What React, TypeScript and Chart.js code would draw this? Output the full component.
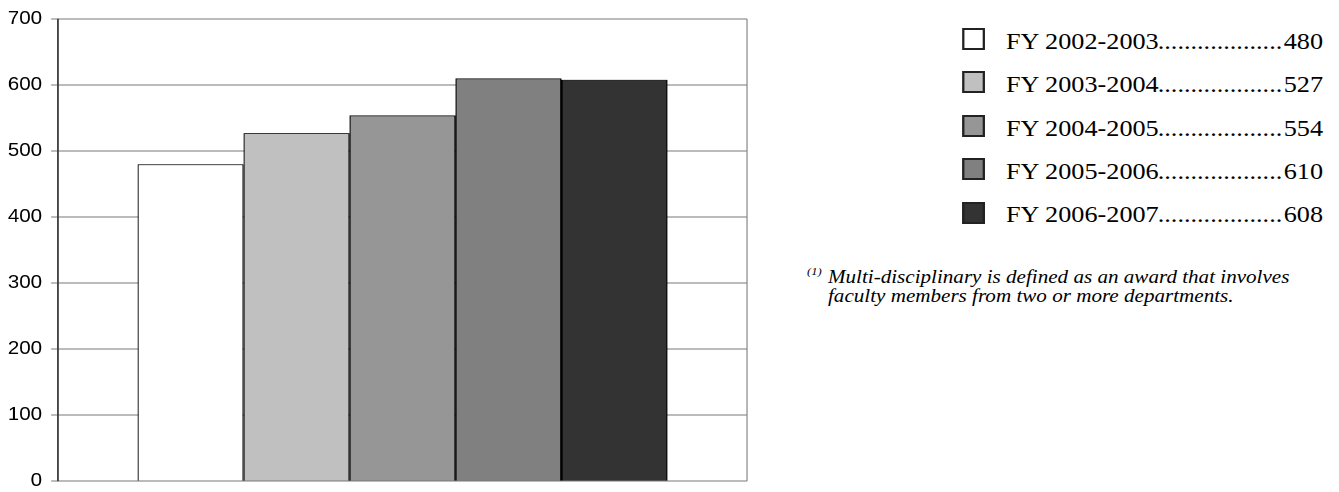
import React, { useEffect, useRef } from "react";
import { Chart, registerables } from "chart.js";

Chart.register(...registerables);

const fiscalYears = ["FY 2002-2003", "FY 2003-2004", "FY 2004-2005", "FY 2005-2006", "FY 2006-2007"];
const awardCounts = [480, 527, 554, 610, 608];
const barColors = ["#FFFFFF", "#C0C0C0", "#969696", "#808080", "#333333"];
const yMin = 0;
const yMax = 700;
const yStep = 100;
const footnoteLines = [
  "Multi-disciplinary is defined as an award that involves",
  "faculty members from two or more departments.",
];

const S = 1.14; // horizontal stretch of the reference
const W = 1339 / S;
const CW = 700;
const CH = 492;

const rightBorder = {
  id: "rightBorder",
  beforeDatasetsDraw(chart: any) {
    const { ctx, chartArea } = chart;
    ctx.save();
    ctx.strokeStyle = "#808080";
    ctx.lineWidth = 1;
    ctx.beginPath();
    ctx.moveTo(chartArea.right, chartArea.top);
    ctx.lineTo(chartArea.right, chartArea.bottom);
    ctx.stroke();
    ctx.restore();
  },
};

export default function App() {
  const ref = useRef<HTMLCanvasElement | null>(null);

  useEffect(() => {
    if (!ref.current) return;
    const chart = new Chart(ref.current, {
      type: "bar",
      data: {
        labels: [""],
        datasets: fiscalYears.map((fy, i) => ({
          label: fy,
          data: [awardCounts[i]],
          backgroundColor: barColors[i],
          borderColor: "#000000",
          borderWidth: 1,
          categoryPercentage: 0.769,
          barPercentage: 1,
        })),
      },
      options: {
        animation: false,
        responsive: false,
        devicePixelRatio: 2,
        layout: { padding: { top: 19, bottom: 11, left: 0, right: CW - 747 / S } },
        plugins: { legend: { display: false }, tooltip: { enabled: false } },
        scales: {
          x: { display: false },
          y: {
            min: yMin,
            max: yMax,
            afterFit: (s: any) => {
              s.width = 58 / S;
              s.paddingTop = 0;
              s.paddingBottom = 0;
            },
            ticks: {
              stepSize: yStep,
              color: "#000000",
              padding: 8,
              font: { family: '"Liberation Sans", Arial, sans-serif', size: 18 },
            },
            grid: { color: "#777777", lineWidth: 1, tickLength: 6, tickColor: "#777777" },
            border: { color: "#444444", width: 1.5 },
          },
        },
      } as any,
      plugins: [rightBorder],
    });
    return () => chart.destroy();
  }, []);

  const serif = '"Liberation Serif", "Times New Roman", serif';

  return (
    <div
      style={{
        position: "absolute",
        left: 0,
        top: 0,
        width: W,
        height: 492,
        transform: `scaleX(${S})`,
        transformOrigin: "0 0",
        overflow: "hidden",
        background: "#fff",
      }}
    >
      <canvas
        ref={ref}
        width={CW}
        height={CH}
        style={{ position: "absolute", left: 0, top: 0, width: CW + "px", height: CH + "px" }}
      />
      {fiscalYears.map((fy, i) => (
        <React.Fragment key={fy}>
          <div
            style={{
              position: "absolute",
              left: 962 / S,
              top: 28 + 43.4 * i,
              width: 20.5,
              height: 22,
              boxSizing: "border-box",
              border: "2px solid #222",
              background: barColors[i],
            }}
          />
          <div
            style={{
              position: "absolute",
              left: 1006 / S,
              top: 49 + 43.4 * i - 19.2,
              width: 1323 / S - 1006 / S,
              display: "flex",
              fontFamily: serif,
              fontSize: 23,
              lineHeight: "23px",
              color: "#000",
              whiteSpace: "nowrap",
            }}
          >
            <span>{fy}</span>
            <span
              style={{
                flex: 1,
                overflow: "hidden",
                direction: "rtl",
                paddingLeft: 6,
                paddingRight: 1,
              }}
            >
              {".".repeat(80)}
            </span>
            <span>{awardCounts[i]}</span>
          </div>
        </React.Fragment>
      ))}
      <div
        style={{
          position: "absolute",
          left: 807 / S,
          top: 266,
          fontFamily: serif,
          fontStyle: "italic",
          fontSize: 11,
          lineHeight: "11px",
          color: "#000",
        }}
      >
        (1)
      </div>
      <div
        style={{
          position: "absolute",
          left: 828 / S,
          top: 268.3,
          fontFamily: serif,
          fontStyle: "italic",
          fontSize: 18.5,
          lineHeight: "19px",
          color: "#000",
          whiteSpace: "nowrap",
        }}
      >
        {footnoteLines.map((l) => (
          <div key={l}>{l}</div>
        ))}
      </div>
    </div>
  );
}
